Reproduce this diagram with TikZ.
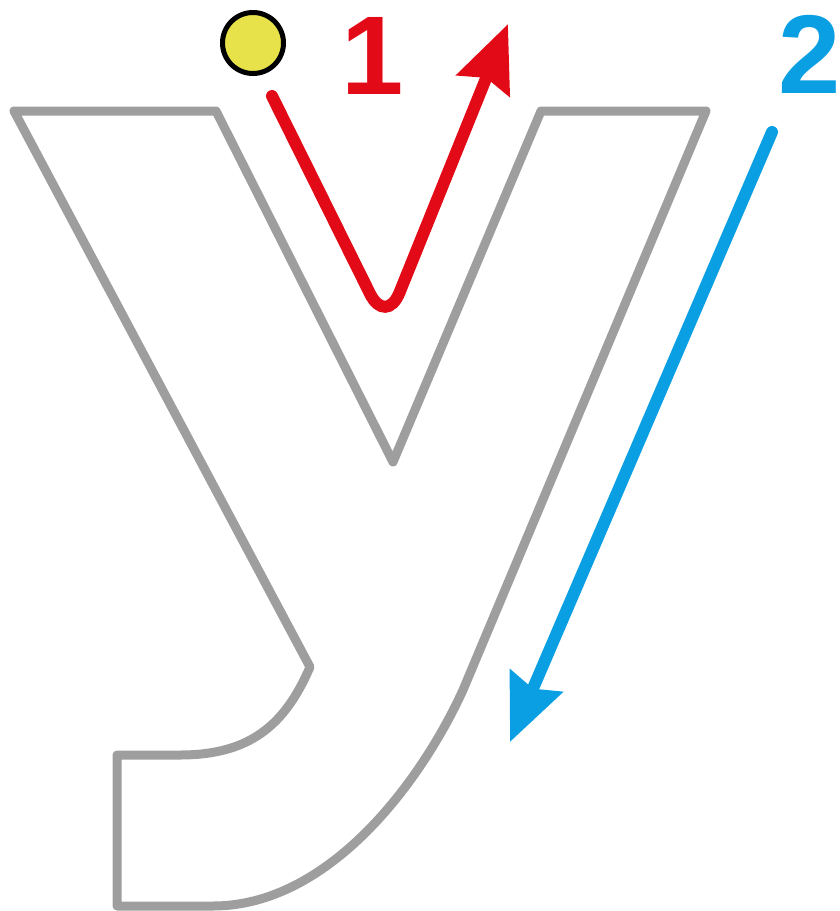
\documentclass[tikz,border=0pt]{standalone}
\usepackage{fontspec}
\newfontfamily\numfont{Liberation Sans}
\usetikzlibrary{arrows.meta}
\definecolor{outlinegray}{HTML}{9E9E9E}
\definecolor{strokered}{HTML}{E30A17}
\definecolor{strokeblue}{HTML}{0A9FE2}
\definecolor{dotyellow}{HTML}{E8E24A}
\tikzset{
  letter/.style={draw=outlinegray, line width=4.5pt, line join=round},
  stroke/.style={line width=6pt, line cap=round, -{Stealth[length=33pt,width=28pt,inset=4pt]}},
  number/.style={font=\numfont\bfseries\fontsize{56}{56}\selectfont, inner sep=0pt},
}
\begin{document}
\begin{tikzpicture}[x=0.5pt,y=-0.5pt]
\useasboundingbox (0,0) rectangle (840,911);

% letter y
\draw[letter] (14,111) -- (216,111) -- (393,462) -- (541,111) -- (706,111) -- (463,690)
  .. controls (422,780) and (330,906) .. (213,906) -- (117,906) -- (117,755) -- (180,755)
  .. controls (250,755) and (285,725) .. (310,667) -- cycle;

\node[circle, draw=black, line width=2.5pt, fill=dotyellow, minimum size=30.5pt, inner sep=0pt](start) at (253,43){};

\coordinate(r0) at (272,96);
\coordinate(r1) at (386,326);
\coordinate(r2) at (508,24);
\draw[stroke, strokered, rounded corners=18pt](r0)--(r1)--(r2);

\coordinate(b0) at (772,132);
\coordinate(b1) at (510,742);
\draw[stroke, strokeblue](b0)--(b1);

\node[number, text=strokered](one) at (373,56){1};
\node[number, text=strokeblue](two) at (810,54){2};

\end{tikzpicture}
\end{document}
